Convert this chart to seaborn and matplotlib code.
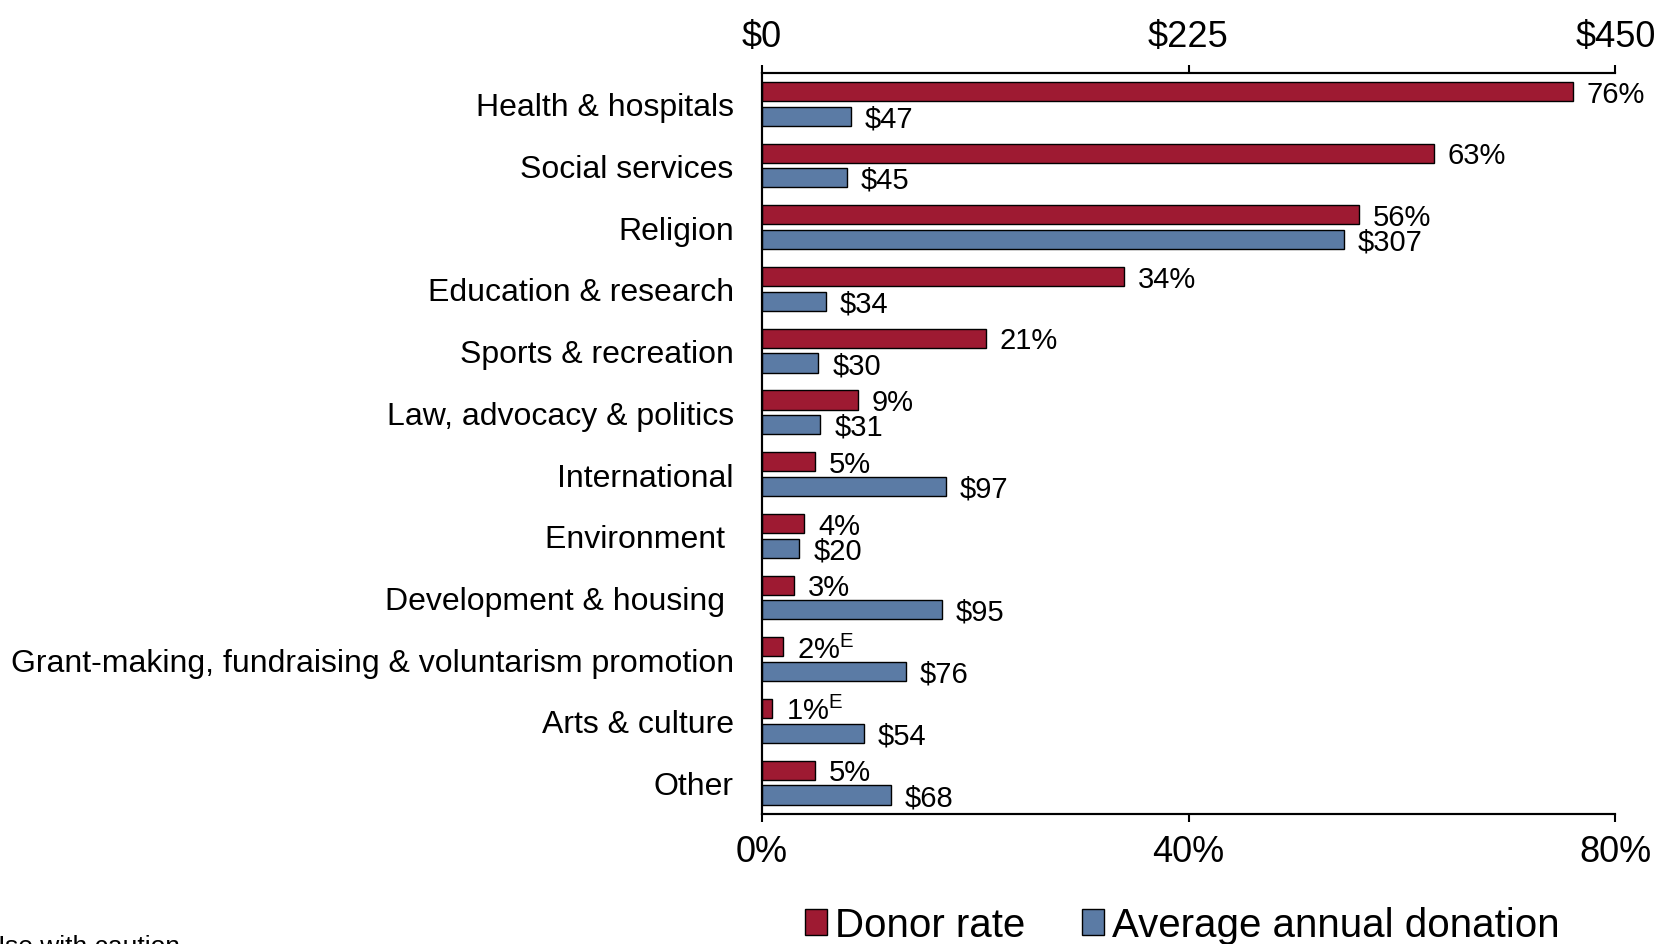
import numpy as np
import pandas as pd
import seaborn as sns
import matplotlib.pyplot as plt
from matplotlib.patches import Patch

sns.set_theme(style="white")
plt.rcParams["font.family"] = ["Liberation Sans", "DejaVu Sans"]
plt.rcParams["mathtext.fontset"] = "custom"
plt.rcParams["mathtext.rm"] = "Liberation Sans"
plt.rcParams["mathtext.it"] = "Liberation Sans"
plt.rcParams["text.color"] = "black"
plt.rcParams["xtick.color"] = "black"
plt.rcParams["ytick.color"] = "black"
plt.rcParams["xtick.labelcolor"] = "black"
plt.rcParams["ytick.labelcolor"] = "black"

categories = [
    "Health & hospitals",
    "Social services",
    "Religion",
    "Education & research",
    "Sports & recreation",
    "Law, advocacy & politics",
    "International",
    "Environment ",
    "Development & housing ",
    "Grant-making, fundraising & voluntarism promotion",
    "Arts & culture",
    "Other",
]
donor_rate = [76, 63, 56, 34, 21, 9, 5, 4, 3, 2, 1, 5]
avg_donation = [47, 45, 307, 34, 30, 31, 97, 20, 95, 76, 54, 68]
use_with_caution = [False, False, False, False, False, False, False, False, False, True, True, False]
rate_ticks = [0, 40, 80]
rate_tick_labels = ["0%", "40%", "80%"]
donation_ticks = [0, 225, 450]
donation_tick_labels = ["$0", "$225", "$450"]

RED = "#9E1A32"
BLUE = "#5B7BA5"

W, H = 1663, 945
fig = plt.figure(figsize=(W / 100, H / 100), dpi=100)
left, right, top, bottom = 761.5, 1615.5, 74, 814.5
ax = fig.add_axes([left / W, 1 - bottom / H, (right - left) / W, (bottom - top) / H])
ax2 = ax.twiny()

pos = np.arange(len(categories))
df_r = pd.DataFrame({"pos": pos - 0.2, "v": donor_rate})
df_b = pd.DataFrame({"pos": pos + 0.2, "v": avg_donation})

sns.barplot(data=df_r, x="v", y="pos", orient="h", native_scale=True, width=0.31,
            color=RED, saturation=1, edgecolor="black", linewidth=1.0, ax=ax)
sns.barplot(data=df_b, x="v", y="pos", orient="h", native_scale=True, width=0.31,
            color=BLUE, saturation=1, edgecolor="black", linewidth=1.0, ax=ax2)

ax.set_xlim(0, 80)
ax2.set_xlim(0, 450)
ax.set_ylim(len(categories) - 0.5, -0.5)

ax.set_xlabel("")
ax.set_ylabel("")
ax2.set_xlabel("")
ax2.set_ylabel("")

ax.set_yticks(pos)
ax.set_yticklabels(categories, fontsize=23, color="black")
ax.tick_params(axis="y", length=0, pad=20)

ax.set_xticks(rate_ticks)
ax.set_xticklabels(rate_tick_labels, fontsize=26, color="black")
ax.tick_params(axis="x", direction="out", length=6, width=1.5, pad=9, color="black", bottom=True)

ax2.set_xticks(donation_ticks)
ax2.set_xticklabels(donation_tick_labels, fontsize=26, color="black")
ax2.tick_params(axis="x", direction="out", length=6, width=1.5, pad=8, color="black", top=True)

for a in (ax, ax2):
    a.spines["right"].set_visible(False)
    for s in ("left", "top", "bottom"):
        a.spines[s].set_color("black")
        a.spines[s].set_linewidth(1.5)
    a.grid(False)

for i, (r, c) in enumerate(zip(donor_rate, use_with_caution)):
    lab = f"{r}%" + (r"$^{\mathrm{E}}$" if c else "")
    ax.annotate(lab, (r, i - 0.2), xytext=(10, -1.5), textcoords="offset points",
                va="center", ha="left", fontsize=21, color="black")
for i, d in enumerate(avg_donation):
    ax2.annotate(f"${d}", (d, i + 0.2), xytext=(10, -1.5), textcoords="offset points",
                 va="center", ha="left", fontsize=21, color="black")

handles = [Patch(facecolor=RED, edgecolor="black", linewidth=1.0, label="Donor rate"),
           Patch(facecolor=BLUE, edgecolor="black", linewidth=1.0, label="Average annual donation")]
leg = fig.legend(handles=handles, loc="center", bbox_to_anchor=(1182 / W, 1 - 926 / H), ncol=2,
                 frameon=False, handlelength=0.55, handleheight=0.6, handletextpad=0.2,
                 columnspacing=1.4, prop={"family": ["Liberation Sans"], "size": 29})

fig.text(-14 / W, 1 - 954 / H, "Use with caution", fontsize=19, ha="left", va="baseline", color="black")

fig.savefig("out.png", dpi=100)
